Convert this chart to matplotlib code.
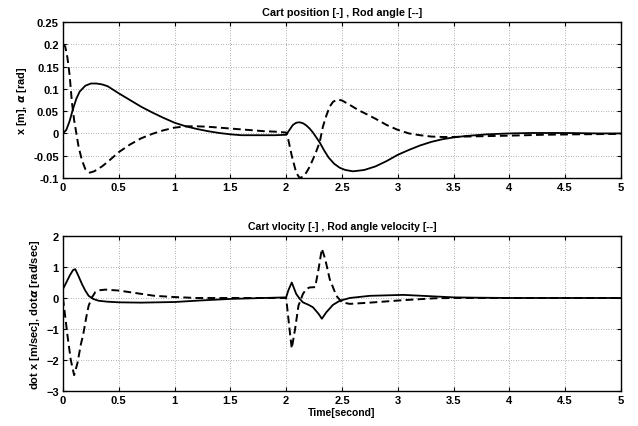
import matplotlib
matplotlib.use("Agg")
import matplotlib.pyplot as plt
import numpy as np

plt.rcParams['font.family'] = ['Liberation Sans', 'DejaVu Sans']
plt.rcParams['font.weight'] = 'bold'

# --- Cart position x [m] (solid) ---
t_pos = [0, 0.03, 0.06, 0.09, 0.12, 0.15, 0.2, 0.25, 0.3, 0.35, 0.4, 0.5, 0.6, 0.7, 0.8,
         0.9, 1.0, 1.1, 1.2, 1.3, 1.4, 1.5, 1.6, 1.7, 1.8, 1.9, 2.0, 2.03, 2.06, 2.09,
         2.12, 2.15, 2.18, 2.21, 2.24, 2.27, 2.3, 2.34, 2.38, 2.43, 2.48, 2.53, 2.6, 2.7,
         2.8, 2.9, 3.0, 3.1, 3.2, 3.3, 3.4, 3.5, 3.6, 3.8, 4.0, 4.2, 4.5, 4.8, 5.0]
x_pos = [0, 0.008, 0.028, 0.055, 0.078, 0.094, 0.107, 0.112, 0.112, 0.11, 0.106, 0.09,
         0.075, 0.06, 0.047, 0.035, 0.024, 0.016, 0.01, 0.005, 0.001, -0.002, -0.004,
         -0.004, -0.004, -0.004, -0.003, 0.008, 0.019, 0.024, 0.025, 0.023, 0.018, 0.011,
         0.002, -0.009, -0.02, -0.038, -0.054, -0.068, -0.077, -0.082, -0.085, -0.082,
         -0.074, -0.062, -0.048, -0.037, -0.027, -0.019, -0.013, -0.009, -0.006, -0.002,
         0.0, 0.001, 0.001, 0.0, 0.0]

# --- Rod angle alpha [rad] (dashed) ---
t_ang = [0, 0.02, 0.04, 0.06, 0.08, 0.1, 0.12, 0.14, 0.17, 0.2, 0.24, 0.28, 0.35, 0.4,
         0.5, 0.6, 0.7, 0.8, 0.9, 1.0, 1.1, 1.2, 1.3, 1.4, 1.5, 1.6, 1.7, 1.8, 1.9, 2.0,
         2.02, 2.05, 2.09, 2.12, 2.15, 2.18, 2.21, 2.24, 2.27, 2.3, 2.33, 2.36, 2.39,
         2.42, 2.46, 2.5, 2.57, 2.65, 2.73, 2.8, 2.9, 3.0, 3.1, 3.2, 3.3, 3.4, 3.5, 3.6,
         3.8, 4.0, 4.3, 4.6, 5.0]
a_ang = [0.2, 0.195, 0.17, 0.13, 0.07, 0.03, 0.0, -0.03, -0.06, -0.08, -0.088, -0.085,
         -0.074, -0.064, -0.042, -0.025, -0.011, -0.001, 0.007, 0.013, 0.016, 0.016,
         0.015, 0.013, 0.011, 0.009, 0.007, 0.005, 0.004, 0.002, -0.015, -0.05, -0.088,
         -0.1, -0.097, -0.088, -0.075, -0.058, -0.04, -0.02, 0.016, 0.04, 0.06, 0.071,
         0.076, 0.074, 0.064, 0.052, 0.042, 0.033, 0.019, 0.008, 0.0, -0.004, -0.007,
         -0.008, -0.008, -0.007, -0.006, -0.005, -0.003, -0.002, -0.001]

# --- Cart velocity [m/sec] (solid) ---
t_vel = [0, 0.03, 0.06, 0.09, 0.11, 0.14, 0.17, 0.2, 0.23, 0.27, 0.32, 0.4, 0.5, 0.7,
         1.0, 1.23, 1.5, 1.8, 2.0, 2.02, 2.05, 2.09, 2.12, 2.15, 2.2, 2.24, 2.29, 2.32,
         2.36, 2.42, 2.48, 2.57, 2.75, 3.05, 3.33, 3.5, 3.7, 4.0, 4.5, 5.0]
v_vel = [0.29, 0.5, 0.72, 0.9, 0.93, 0.7, 0.45, 0.24, 0.07, -0.03, -0.09, -0.12, -0.14,
         -0.15, -0.13, -0.08, -0.03, 0.0, 0.02, 0.25, 0.5, 0.13, -0.02, -0.14, -0.22,
         -0.3, -0.51, -0.67, -0.46, -0.22, -0.09, 0.0, 0.07, 0.1, 0.05, 0.02, 0.01, 0.0,
         0.0, 0.0]

# --- Rod angle velocity [rad/sec] (dashed) ---
t_avel = [0, 0.02, 0.04, 0.07, 0.1, 0.13, 0.16, 0.18, 0.21, 0.23, 0.26, 0.29, 0.33,
          0.38, 0.5, 0.65, 0.82, 1.0, 1.2, 1.5, 2.0, 2.03, 2.05, 2.08, 2.11, 2.15, 2.18,
          2.21, 2.26, 2.29, 2.32, 2.35, 2.39, 2.45, 2.5, 2.57, 2.75, 3.05, 3.33, 3.5,
          4.0, 5.0]
w_avel = [0, -0.6, -1.2, -2.0, -2.49, -2.1, -1.5, -1.2, -0.6, -0.25, 0.02, 0.19, 0.25,
          0.27, 0.24, 0.16, 0.07, 0.03, 0.0, 0.0, 0.0, -1.0, -1.63, -1.0, -0.25, 0.13,
          0.29, 0.34, 0.35, 0.93, 1.59, 1.25, 0.61, 0.07, -0.14, -0.19, -0.15, -0.07,
          -0.01, 0.0, 0.0, 0.0]

xticks = np.arange(0, 5.01, 0.5)
xtick_labels = ['0', '0.5', '1', '1.5', '2', '2.5', '3', '3.5', '4', '4.5', '5']
top_yticks = [-0.1, -0.05, 0, 0.05, 0.1, 0.15, 0.2, 0.25]
top_ylabels = ['-0.1', '-0.05', '0', '0.05', '0.1', '0.15', '0.2', '0.25']
bot_yticks = [-3, -2, -1, 0, 1, 2]

fig = plt.figure(figsize=(6.38, 4.27), dpi=100)
ax1 = fig.add_axes([0.0987, 0.5808, 0.8746, 0.3653])
ax2 = fig.add_axes([0.0987, 0.082, 0.8746, 0.363])

dash = (0, (4, 2.2))
ax1.plot(t_pos, x_pos, color='black', lw=1.3)
ax1.plot(t_ang, a_ang, color='black', lw=1.4, linestyle=dash)
ax2.plot(t_vel, v_vel, color='black', lw=1.3)
ax2.plot(t_avel, w_avel, color='black', lw=1.4, linestyle=dash)

for ax in (ax1, ax2):
    ax.set_xlim(0, 5)
    ax.set_xticks(xticks)
    ax.set_xticklabels(xtick_labels)
    ax.grid(True, color='#444444', linestyle=(0, (1, 3)), linewidth=0.45)
    ax.tick_params(direction='in', top=True, right=True, labelsize=8, length=3, pad=3)
    for s in ax.spines.values():
        s.set_linewidth(1.0)

ax1.set_ylim(-0.1, 0.25)
ax1.set_yticks(top_yticks)
ax1.set_yticklabels(top_ylabels)
ax1.set_title('Cart position [-] , Rod angle [--]', fontsize=7.8, fontweight='bold', pad=5)
ax1.set_ylabel(r'x [m], $\alpha$ [rad]', fontsize=7.8, fontweight='bold', labelpad=3)

ax2.set_ylim(-3, 2)
ax2.set_yticks(bot_yticks)
ax2.set_title('Cart vlocity [-] , Rod angle velocity [--]', fontsize=7.6, fontweight='bold', pad=5)
ax2.set_ylabel(r'dot x [m/sec], dot$\alpha$ [rad/sec]', fontsize=8, fontweight='bold', labelpad=3)
ax2.set_xlabel('Time[second]', fontsize=7.5, fontweight='bold', labelpad=1)

fig.savefig('out.png', dpi=100)
